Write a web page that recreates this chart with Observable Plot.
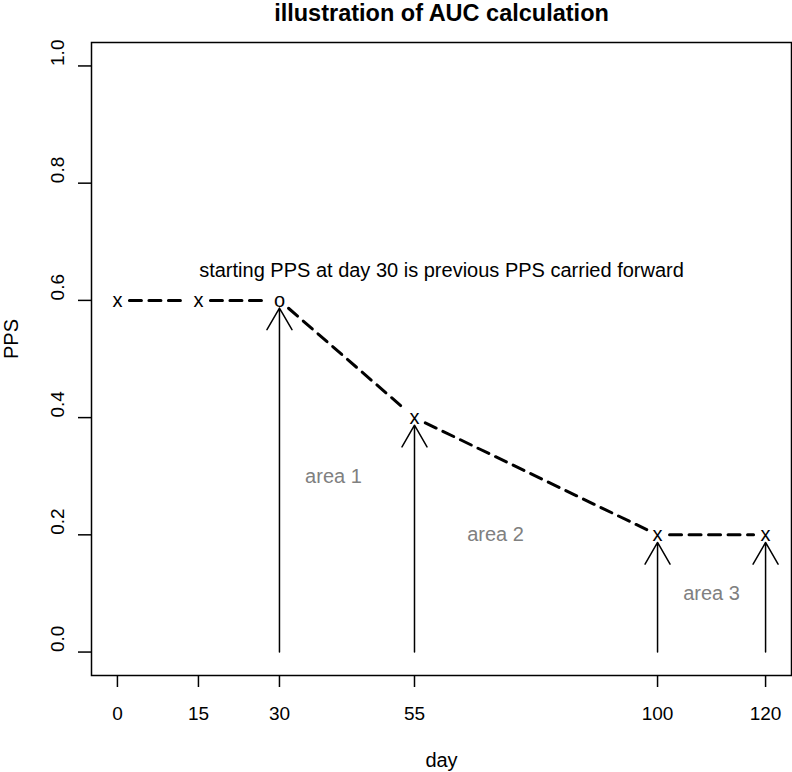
<!DOCTYPE html>
<html><head><meta charset="utf-8">
<script src="https://cdn.jsdelivr.net/npm/d3@7"></script>
<script src="https://cdn.jsdelivr.net/npm/@observablehq/plot@0.6"></script>
<style>body{margin:0;background:#fff}</style>
</head><body><div id="chart"></div>
<script>
// ---- data ----
const titleText = "illustration of AUC calculation";
const xLabel = "day";
const yLabel = "PPS";
const days = [0, 15, 30, 55, 100, 120];
const pps = [0.6, 0.6, 0.6, 0.4, 0.2, 0.2];
const pointSymbols = ["x", "x", "o", "x", "x", "x"];
const arrowDays = [30, 55, 100, 120];
const arrowTops = [0.587, 0.387, 0.187, 0.187];
const xTicks = [0, 15, 30, 55, 100, 120];
const yTicks = [0, 0.2, 0.4, 0.6, 0.8, 1.0];
const yTickLabels = ["0.0", "0.2", "0.4", "0.6", "0.8", "1.0"];
const noteText = ["starting PPS at day 30 is previous PPS carried forward"];
const noteDay = [60];
const noteValue = [0.65];
const areaLabels = ["area 1", "area 2", "area 3"];
const areaDays = [40, 70, 110];
const areaValues = [0.3, 0.2, 0.1];

// ---- derived tables ----
const points = days.map((d, i) => ({day: d, pps: pps[i], sym: pointSymbols[i]}));
const segments = days.slice(0, -1).map((d, i) => ({x1: d, y1: pps[i], x2: days[i + 1], y2: pps[i + 1]}));
const arrows = arrowDays.map((d, i) => ({day: d, top: arrowTops[i]}));
const notes = noteText.map((t, i) => ({t, day: noteDay[i], v: noteValue[i]}));
const areas = areaLabels.map((t, i) => ({t, day: areaDays[i], v: areaValues[i]}));
const yTickData = yTicks.map((v, i) => ({v, label: yTickLabels[i]}));

const font = "'Liberation Sans', Arial, sans-serif";

const chart = Plot.plot({
  width: 792,
  height: 772,
  marginLeft: 91,
  marginRight: 1,
  marginTop: 42,
  marginBottom: 97,
  style: {fontFamily: font, fontSize: "19px", background: "#fff", color: "#000"},
  x: {domain: [-4.8, 124.8]},
  y: {domain: [-0.04, 1.04]},
  marks: [
    Plot.frame({stroke: "black", strokeWidth: 1.5}),
    Plot.axisX({ticks: xTicks, tickSize: 12, tickPadding: 18.5, strokeWidth: 1.5, fontSize: 19, label: null, tickFormat: d => String(d)}),
    Plot.axisY({ticks: yTicks, tickSize: 13, strokeWidth: 1.5, label: null, tickFormat: () => ""}),
    Plot.text(yTickData, {y: "v", text: "label", frameAnchor: "left", rotate: -90, lineAnchor: "bottom", dx: -28, fontSize: 19, fill: "black"}),
    Plot.text([titleText], {text: d => d, frameAnchor: "top", lineAnchor: "bottom", dy: -22, fontSize: 23.5, fontWeight: "bold", fill: "black"}),
    Plot.text([xLabel], {text: d => d, frameAnchor: "bottom", lineAnchor: "bottom", dy: 91, fontSize: 20, fill: "black"}),
    Plot.text([yLabel], {text: d => d, frameAnchor: "left", rotate: -90, lineAnchor: "bottom", dx: -74, fontSize: 20, fill: "black"}),
    Plot.arrow(segments, {x1: "x1", y1: "y1", x2: "x2", y2: "y2", stroke: "black", strokeWidth: 3, strokeDasharray: "12,7.5", headLength: 0, inset: 12}),
    Plot.arrow(arrows, {x1: "day", x2: "day", y1: () => 0, y2: "top", stroke: "black", strokeWidth: 1.5, headLength: 25, headAngle: 60}),
    Plot.text(points, {x: "day", y: "pps", text: "sym", fontSize: 20, fill: "black"}),
    Plot.text(notes, {x: "day", y: "v", text: "t", fontSize: 20, fill: "black"}),
    Plot.text(areas, {x: "day", y: "v", text: "t", fontSize: 20, fill: "#808080"})
  ]
});
document.getElementById("chart").appendChild(chart);
</script>
</body></html>
